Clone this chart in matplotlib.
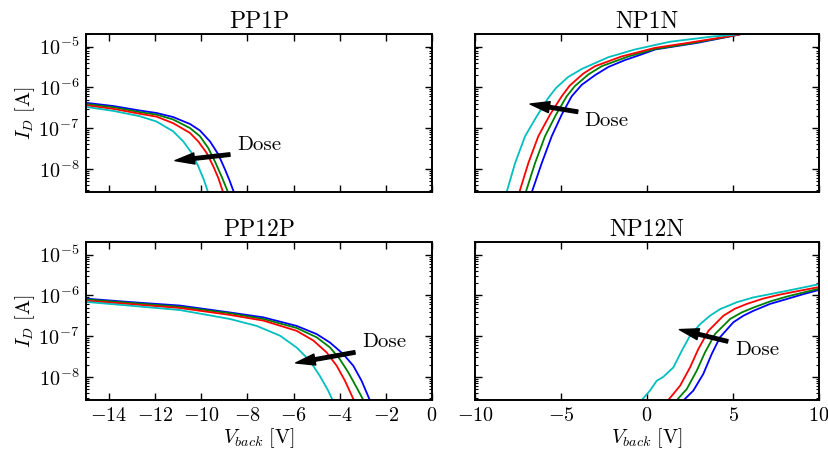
import numpy as np
import matplotlib
matplotlib.use("Agg")
import matplotlib.pyplot as plt
from matplotlib.ticker import LogLocator, MultipleLocator, NullFormatter

plt.rcParams['font.family'] = ['cmr10', 'DejaVu Serif']
plt.rcParams['mathtext.fontset'] = 'cm'
plt.rcParams['axes.formatter.use_mathtext'] = True

# ---------------- data (V_back in V, log10 of I_D in A) ----------------
titles = ["PP1P", "NP1N", "PP12P", "NP12N"]
colors = ["b", "g", "r", "c"]

# PP1P
pp1p_V_b = [-15, -13.8, -12.66, -11.94, -11.22, -10.49, -10.06, -9.62, -9.26, -8.97, -8.76, -8.56]
pp1p_L_b = [-6.38, -6.46, -6.57, -6.63, -6.73, -6.90, -7.06, -7.33, -7.65, -8.02, -8.31, -8.62]
pp1p_V_g = [-15, -13.8, -12.66, -11.94, -11.22, -10.49, -10.06, -9.70, -9.41, -9.12, -8.81]
pp1p_L_g = [-6.41, -6.49, -6.61, -6.67, -6.79, -7.00, -7.20, -7.49, -7.82, -8.19, -8.62]
pp1p_V_r = [-15, -13.8, -12.66, -11.94, -11.22, -10.49, -10.13, -9.77, -9.48, -9.26, -9.03]
pp1p_L_r = [-6.44, -6.53, -6.65, -6.72, -6.88, -7.12, -7.33, -7.61, -7.94, -8.23, -8.62]
pp1p_V_c = [-15, -13.8, -12.66, -11.94, -11.22, -10.78, -10.42, -10.13, -9.89, -9.68]
pp1p_L_c = [-6.48, -6.58, -6.71, -6.84, -7.08, -7.33, -7.61, -7.94, -8.27, -8.62]

# NP1N
np1n_V_b = [-6.72, -6.12, -5.54, -4.96, -4.38, -3.80, -3.02, -2.25, -1.28, -0.31, 0.47, 2.89, 5.06, 6.5]
np1n_L_b = [-8.60, -7.86, -7.20, -6.67, -6.22, -5.94, -5.70, -5.50, -5.33, -5.19, -5.07, -4.91, -4.73, -4.60]
np1n_V_g = [-7.07, -6.51, -5.93, -5.29, -4.67, -4.20, -3.40, -2.63, -1.08, 0.47, 2.70, 5.0, 6.5]
np1n_L_g = [-8.60, -7.86, -7.20, -6.67, -6.22, -5.97, -5.68, -5.48, -5.24, -5.06, -4.91, -4.73, -4.60]
np1n_V_r = [-7.44, -6.90, -6.32, -5.64, -4.96, -4.50, -3.70, -3.02, -1.47, 0.47, 2.50, 5.0, 6.5]
np1n_L_r = [-8.60, -7.86, -7.20, -6.67, -6.22, -5.96, -5.66, -5.48, -5.24, -5.03, -4.90, -4.73, -4.60]
np1n_V_c = [-8.18, -7.67, -7.09, -6.41, -5.74, -5.30, -4.60, -3.80, -2.25, -0.70, 0.47, 1.34, 3.84, 5.06, 6.5]
np1n_L_c = [-8.60, -7.86, -7.20, -6.71, -6.26, -6.02, -5.75, -5.55, -5.26, -5.07, -4.96, -4.88, -4.75, -4.71, -4.60]

# PP12P
pp12p_V_b = [-15, -12.95, -10.93, -8.76, -7.31, -5.87, -5.00, -4.42, -3.85, -3.41, -3.05, -2.66]
pp12p_L_b = [-6.08, -6.17, -6.25, -6.42, -6.54, -6.75, -6.95, -7.16, -7.44, -7.73, -8.10, -8.62]
pp12p_V_g = [-15, -12.95, -10.93, -8.76, -7.31, -5.87, -5.00, -4.42, -3.99, -3.63, -3.27, -2.93]
pp12p_L_g = [-6.10, -6.19, -6.28, -6.44, -6.58, -6.80, -7.03, -7.28, -7.57, -7.89, -8.26, -8.62]
pp12p_V_r = [-15, -12.95, -10.93, -8.76, -7.31, -5.87, -5.14, -4.57, -4.13, -3.77, -3.35]
pp12p_L_r = [-6.13, -6.22, -6.31, -6.48, -6.62, -6.87, -7.11, -7.40, -7.73, -8.10, -8.62]
pp12p_V_c = [-15, -12.95, -10.93, -8.76, -7.60, -6.59, -5.87, -5.29, -4.86, -4.50, -4.27]
pp12p_L_c = [-6.16, -6.26, -6.36, -6.58, -6.75, -6.99, -7.28, -7.61, -7.98, -8.34, -8.62]

# NP12N
np12n_V_b = [2.02, 2.69, 3.27, 3.76, 4.24, 5.02, 5.60, 6.18, 7.15, 8.12, 9.09, 10.06]
np12n_L_b = [-8.62, -8.34, -7.93, -7.44, -7.03, -6.66, -6.50, -6.38, -6.21, -6.09, -5.97, -5.86]
np12n_V_g = [1.63, 2.31, 2.89, 3.37, 3.95, 4.83, 5.50, 6.18, 7.15, 8.12, 10.06]
np12n_L_g = [-8.62, -8.30, -7.85, -7.40, -6.95, -6.58, -6.42, -6.30, -6.15, -6.03, -5.83]
np12n_V_r = [1.14, 1.92, 2.50, 2.98, 3.57, 4.44, 5.10, 5.80, 6.75, 7.73, 10.06]
np12n_L_r = [-8.62, -8.22, -7.77, -7.32, -6.87, -6.50, -6.33, -6.21, -6.08, -5.98, -5.79]
np12n_V_c = [-0.41, 0.17, 0.56, 0.95, 1.53, 2.02, 2.50, 3.08, 3.66, 4.24, 5.21, 6.18, 8.12, 10.06]
np12n_L_c = [-8.62, -8.34, -8.10, -8.00, -7.77, -7.36, -6.99, -6.71, -6.50, -6.34, -6.17, -6.05, -5.89, -5.72]

# annotations: (tail V, tail logI), (head V, head logI), (text V, text logI)
arrows = [
    ((-8.76, -7.65), (-11.14, -7.80), (-8.45, -7.41)),
    ((-4.03, -6.60), (-6.80, -6.41), (-3.66, -6.82)),
    ((-3.34, -7.40), (-5.91, -7.66), (-3.01, -7.14)),
    ((4.69, -7.13), (1.88, -6.84), (5.12, -7.34)),
]

panels = [
    [(pp1p_V_b, pp1p_L_b), (pp1p_V_g, pp1p_L_g), (pp1p_V_r, pp1p_L_r), (pp1p_V_c, pp1p_L_c)],
    [(np1n_V_b, np1n_L_b), (np1n_V_g, np1n_L_g), (np1n_V_r, np1n_L_r), (np1n_V_c, np1n_L_c)],
    [(pp12p_V_b, pp12p_L_b), (pp12p_V_g, pp12p_L_g), (pp12p_V_r, pp12p_L_r), (pp12p_V_c, pp12p_L_c)],
    [(np12n_V_b, np12n_L_b), (np12n_V_g, np12n_L_g), (np12n_V_r, np12n_L_r), (np12n_V_c, np12n_L_c)],
]

xlims = [(-15, 0), (-10, 10), (-15, 0), (-10, 10)]
xsteps = [2, 5, 2, 5]
ylim = (10 ** -8.57, 10 ** -4.69)

fig = plt.figure(figsize=(8.29, 4.57), dpi=100)
positions = [
    [0.1037, 0.5799, 0.4174, 0.3457],
    [0.5730, 0.5799, 0.4150, 0.3457],
    [0.1037, 0.1247, 0.4174, 0.3457],
    [0.5730, 0.1247, 0.4150, 0.3457],
]

for i in range(4):
    ax = fig.add_axes(positions[i])
    for (V, L), col in zip(panels[i], colors):
        ax.plot(V, 10 ** np.array(L), color=col, lw=1.3, solid_joinstyle='round')
    ax.set_yscale('log')
    ax.set_ylim(*ylim)
    ax.set_xlim(*xlims[i])
    ax.xaxis.set_major_locator(MultipleLocator(xsteps[i]))
    ax.yaxis.set_major_locator(LogLocator(base=10, numticks=10))
    ax.yaxis.set_minor_locator(LogLocator(base=10, subs=np.arange(2, 10), numticks=10))
    ax.yaxis.set_minor_formatter(NullFormatter())
    ax.tick_params(which='both', direction='in', top=True, right=True, labelsize=14.5)
    ax.tick_params(which='major', length=5, width=1, pad=5)
    ax.tick_params(which='minor', length=2.5, width=0.8)
    for s in ax.spines.values():
        s.set_linewidth(1.4)
    ax.set_title(titles[i], fontsize=17, pad=4)
    if i % 2 == 0:
        ax.set_ylabel(r'$I_D\ [\mathrm{A}]$', fontsize=14.5, labelpad=1)
    else:
        ax.set_yticklabels([])
    if i < 2:
        ax.set_xticklabels([])
    else:
        ax.set_xlabel(r'$V_{back}\ [\mathrm{V}]$', fontsize=14.5, labelpad=1)
    (tv, tl), (hv, hl), (xv, xl) = arrows[i]
    ax.annotate('', xy=(hv, 10 ** hl), xytext=(tv, 10 ** tl),
                arrowprops=dict(facecolor='black', edgecolor='black', width=2.5,
                                headwidth=8, headlength=14, shrink=0))
    ax.text(xv, 10 ** xl, 'Dose', fontsize=15, va='center', ha='left')

fig.savefig('out.png', dpi=100)
